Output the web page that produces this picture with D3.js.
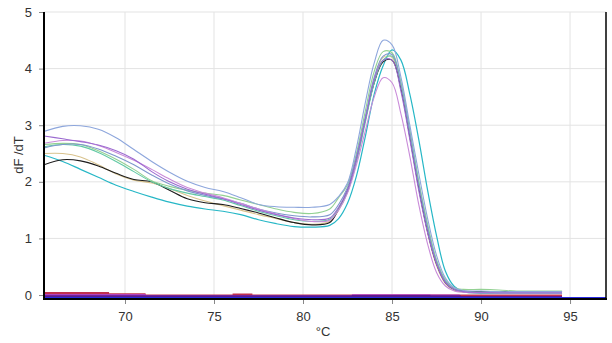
<!DOCTYPE html>
<html>
<head>
<meta charset="utf-8">
<script src="https://cdn.jsdelivr.net/npm/d3@7"></script>
<style>
  body { margin: 0; background: #fff; }
  svg { display: block; font-family: "Liberation Sans", Arial, sans-serif; }
  .grid line { stroke: #e3e3e3; stroke-width: 1; }
  .tick text { fill: #333; font-size: 13px; }
</style>
</head>
<body>
<div id="chart"></div>
<script>
// melt curve temperatures (°C)
const temps = [65.45, 66.5, 67.5, 68.5, 69.5, 70.5, 71.5, 72.5, 73.5, 74.5, 75.5, 76.5, 77.5, 78.5, 79.5, 80.5, 81.5,
  82, 82.5, 83, 83.5, 84, 84.5, 85, 85.5, 86, 86.5, 87, 87.5, 88, 88.5, 89,
  90, 91, 92, 93, 94.55];

const lightBlue = [2.89, 2.98, 2.99, 2.93, 2.78, 2.57, 2.36, 2.17, 2.01, 1.90, 1.83, 1.72, 1.60, 1.56, 1.55, 1.55, 1.60,
  1.74, 1.98, 2.60, 3.40, 4.10, 4.50, 4.42, 3.85, 3.00, 2.15, 1.35, 0.70, 0.30, 0.13, 0.08,
  0.07, 0.06, 0.06, 0.06, 0.06];
const purple = [2.81, 2.76, 2.71, 2.65, 2.55, 2.40, 2.18, 2.00, 1.87, 1.78, 1.70, 1.60, 1.50, 1.42, 1.36, 1.33, 1.36,
  1.55, 1.85, 2.40, 3.10, 3.80, 4.15, 4.15, 3.60, 2.75, 1.85, 1.10, 0.55, 0.22, 0.10, 0.06,
  0.05, 0.05, 0.05, 0.05, 0.05];
const orchid = [2.68, 2.73, 2.72, 2.64, 2.52, 2.38, 2.22, 2.05, 1.90, 1.80, 1.72, 1.62, 1.52, 1.43, 1.35, 1.30, 1.32,
  1.50, 1.80, 2.30, 2.90, 3.50, 3.84, 3.75, 3.20, 2.45, 1.60, 0.90, 0.40, 0.16, 0.07, 0.05,
  0.04, 0.04, 0.04, 0.04, 0.04];
const lightGreen = [2.66, 2.68, 2.66, 2.55, 2.40, 2.22, 2.02, 1.92, 1.85, 1.80, 1.76, 1.68, 1.60, 1.52, 1.46, 1.44, 1.52,
  1.72, 1.95, 2.50, 3.25, 3.95, 4.30, 4.28, 3.75, 2.90, 2.00, 1.25, 0.62, 0.27, 0.13, 0.10,
  0.10, 0.09, 0.07, 0.07, 0.07];
const seaGreen = [2.62, 2.66, 2.63, 2.52, 2.36, 2.18, 2.00, 1.88, 1.80, 1.74, 1.68, 1.58, 1.48, 1.40, 1.33, 1.30, 1.34,
  1.52, 1.82, 2.35, 3.05, 3.75, 4.15, 4.22, 3.75, 2.90, 2.00, 1.20, 0.60, 0.25, 0.10, 0.06,
  0.05, 0.05, 0.05, 0.05, 0.05];
const steelBlue = [2.60, 2.66, 2.66, 2.58, 2.45, 2.30, 2.12, 1.96, 1.84, 1.76, 1.70, 1.62, 1.52, 1.45, 1.40, 1.38, 1.42,
  1.60, 1.90, 2.45, 3.15, 3.85, 4.22, 4.25, 3.70, 2.85, 1.95, 1.18, 0.58, 0.24, 0.10, 0.06,
  0.04, 0.03, 0.03, 0.03, 0.03];
const tan = [2.50, 2.50, 2.44, 2.30, 2.14, 2.03, 1.98, 1.88, 1.76, 1.66, 1.58, 1.50, 1.42, 1.35, 1.28, 1.25, 1.30,
  1.50, 1.82, 2.38, 3.10, 3.80, 4.20, 4.20, 3.65, 2.80, 1.90, 1.10, 0.52, 0.20, 0.08, 0.05,
  0.04, 0.04, 0.04, 0.04, 0.04];
const black = [2.30, 2.39, 2.37, 2.28, 2.15, 2.04, 2.00, 1.85, 1.70, 1.63, 1.60, 1.53, 1.45, 1.36, 1.28, 1.24, 1.28,
  1.52, 1.85, 2.42, 3.10, 3.75, 4.12, 4.15, 3.65, 2.80, 1.90, 1.12, 0.55, 0.22, 0.10, 0.07,
  0.06, 0.06, 0.06, 0.06, 0.06];
const cyan = [2.47, 2.36, 2.22, 2.08, 1.94, 1.83, 1.73, 1.64, 1.57, 1.52, 1.48, 1.42, 1.33, 1.26, 1.21, 1.20, 1.23,
  1.35, 1.62, 2.10, 2.80, 3.55, 4.05, 4.33, 4.15, 3.55, 2.75, 1.85, 1.05, 0.42, 0.15, 0.06,
  0.03, 0.03, 0.03, 0.03, 0.03];

// no-template controls, stepped close to zero
const ntcTemps = [65.45, 69.05, 71.1, 76.1, 77.1, 82.8, 87.1, 88.8, 94.55];
const ntcRed = [0.035, 0.012, -0.008, 0.008, -0.01, -0.01, -0.01, -0.01, -0.01];
const ntcMagenta = [0.0, 0.0, -0.015, -0.015, -0.015, -0.005, -0.01, -0.01, null];
const ntcPurple = [-0.02, -0.02, -0.022, -0.022, -0.022, -0.018, -0.022, -0.035, -0.035];
const ntcNavy = [null, null, null, null, null, null, null, -0.06, -0.06];
const ntcSky = [null, null, null, null, null, null, null, -0.04, -0.04];
const baseTemps = [65.45, 97.02];
const baseBlue = [-0.045, -0.045];

const xTicks = [70, 75, 80, 85, 90, 95];
const yTicks = [0, 1, 2, 3, 4, 5];

const width = 612, height = 343;
const plot = { left: 44, right: 606, top: 12, bottom: 299 };

const svg = d3.select('#chart').append('svg')
  .attr('width', width)
  .attr('height', height);

const x = d3.scaleLinear().domain([65.45, 97.02]).range([plot.left, plot.right]);
const y = d3.scaleLinear().domain([-0.07, 5]).range([plot.bottom, plot.top]);

// grid
svg.append('g').attr('class', 'grid')
  .selectAll('line').data(xTicks).enter().append('line')
  .attr('x1', d => x(d)).attr('x2', d => x(d))
  .attr('y1', plot.top).attr('y2', plot.bottom);
svg.append('g').attr('class', 'grid')
  .selectAll('line').data(yTicks.filter(d => d > 0)).enter().append('line')
  .attr('x1', plot.left).attr('x2', plot.right)
  .attr('y1', d => y(d)).attr('y2', d => y(d));

svg.append('clipPath').attr('id', 'clip')
  .append('rect')
  .attr('x', plot.left).attr('y', plot.top)
  .attr('width', plot.right - plot.left).attr('height', plot.bottom - plot.top);

const lines = svg.append('g').attr('clip-path', 'url(#clip)');

function drawSeries(ts, vals, color, w, curve) {
  const pts = ts.map((t, i) => [t, vals[i]]);
  const line = d3.line()
    .defined(d => d[1] !== null)
    .x(d => x(d[0]))
    .y(d => y(d[1]))
    .curve(curve);
  lines.append('path')
    .datum(pts)
    .attr('fill', 'none')
    .attr('stroke', color)
    .attr('stroke-width', w)
    .attr('d', line);
}

const smooth = d3.curveCatmullRom.alpha(0.5);
drawSeries(temps, cyan, '#26b7c6', 1.2, smooth);
drawSeries(temps, tan, '#d9c38e', 1.1, smooth);
drawSeries(temps, black, '#1c1c1c', 1.1, smooth);
drawSeries(temps, seaGreen, '#62c9a6', 1.1, smooth);
drawSeries(temps, lightGreen, '#93d193', 1.1, smooth);
drawSeries(temps, steelBlue, '#7d97cc', 1.1, smooth);
drawSeries(temps, orchid, '#c98bd9', 1.1, smooth);
drawSeries(temps, purple, '#9b6ad0', 1.1, smooth);
drawSeries(temps, lightBlue, '#8da6dc', 1.1, smooth);

drawSeries(ntcTemps, ntcSky, '#3a9bd8', 2, d3.curveStepAfter);
drawSeries(ntcTemps, ntcNavy, '#1d2b6e', 2, d3.curveStepAfter);
drawSeries(ntcTemps, ntcRed, '#c0304e', 2, d3.curveStepAfter);
drawSeries(ntcTemps, ntcMagenta, '#b040c0', 2, d3.curveStepAfter);
drawSeries(ntcTemps, ntcPurple, '#5c1a8c', 2, d3.curveStepAfter);
drawSeries(baseTemps, baseBlue, '#2a2ae0', 1.3, d3.curveLinear);

// axes
const xAxis = svg.append('g')
  .attr('transform', 'translate(0,' + plot.bottom + ')')
  .call(d3.axisBottom(x).tickValues(xTicks).tickSize(5).tickPadding(8).tickFormat(d3.format('d')));
xAxis.select('.domain').remove();
xAxis.selectAll('.tick line').attr('stroke', '#888');

const yAxis = svg.append('g')
  .attr('transform', 'translate(' + plot.left + ',0)')
  .call(d3.axisLeft(y).tickValues(yTicks).tickSize(5).tickPadding(7).tickFormat(d3.format('d')));
yAxis.select('.domain').remove();
yAxis.selectAll('.tick line').attr('stroke', '#888');

svg.append('line')
  .attr('x1', plot.left).attr('x2', plot.left)
  .attr('y1', plot.top).attr('y2', plot.bottom + 1)
  .attr('stroke', '#000').attr('stroke-width', 2);
svg.append('line')
  .attr('x1', plot.left).attr('x2', plot.right + 1)
  .attr('y1', plot.bottom).attr('y2', plot.bottom)
  .attr('stroke', '#000').attr('stroke-width', 2);
svg.append('line')
  .attr('x1', plot.right).attr('x2', plot.right)
  .attr('y1', plot.top).attr('y2', plot.bottom)
  .attr('stroke', '#000').attr('stroke-width', 1.5);

svg.append('text')
  .attr('x', 323).attr('y', 336)
  .attr('text-anchor', 'middle')
  .attr('fill', '#333').attr('font-size', 13)
  .text('°C');

svg.append('text')
  .attr('transform', 'translate(23,155) rotate(-90)')
  .attr('text-anchor', 'middle')
  .attr('fill', '#333').attr('font-size', 13)
  .text('dF /dT');
</script>
</body>
</html>
